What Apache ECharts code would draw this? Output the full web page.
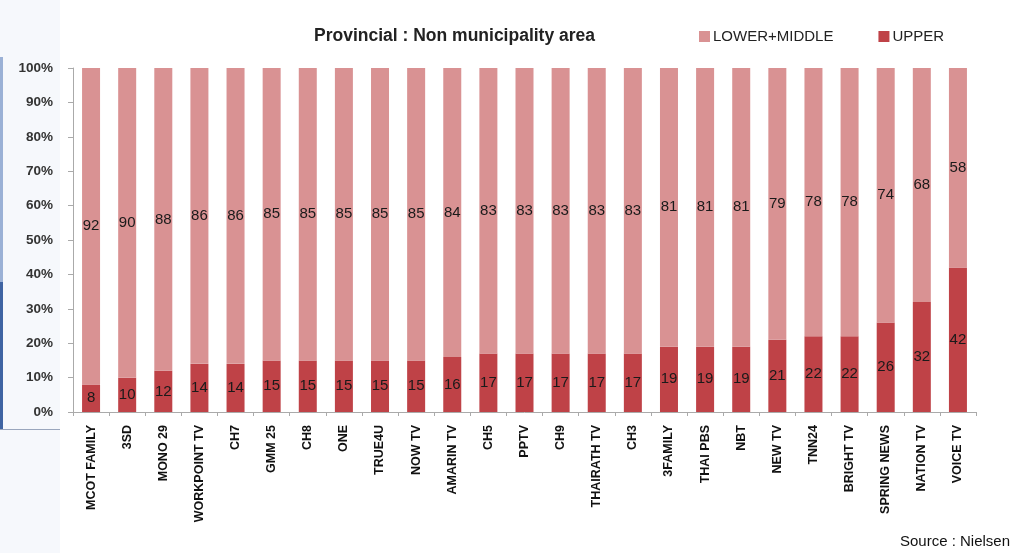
<!DOCTYPE html>
<html>
<head>
<meta charset="utf-8">
<script src="https://cdn.jsdelivr.net/npm/echarts@6/dist/echarts.min.js"></script>
<style>
html,body{margin:0;padding:0;background:#ffffff;}
#chart{width:1015px;height:553px;}
</style>
</head>
<body>
<div id="chart"></div>
<script>
const categories = ["MCOT FAMILY","3SD","MONO 29","WORKPOINT TV","CH7","GMM 25","CH8","ONE","TRUE4U","NOW TV","AMARIN TV","CH5","PPTV","CH9","THAIRATH TV","CH3","3FAMILY","THAI PBS","NBT","NEW TV","TNN24","BRIGHT TV","SPRING NEWS","NATION TV","VOICE TV"];
const upper = [8,10,12,14,14,15,15,15,15,15,16,17,17,17,17,17,19,19,19,21,22,22,26,32,42];
const lowerMiddle = [92,90,88,86,86,85,85,85,85,85,84,83,83,83,83,83,81,81,81,79,78,78,74,68,58];
const yTicks = [0,10,20,30,40,50,60,70,80,90,100];

const FONT = '"Liberation Sans", Arial, sans-serif';
const chart = echarts.init(document.getElementById('chart'));
chart.setOption({
  backgroundColor: '#ffffff',
  animation: false,
  textStyle: { fontFamily: FONT },
  title: {
    text: 'Provincial : Non municipality area',
    left: 309, top: 22,
    textStyle: { fontFamily: FONT, fontSize: 17.5, fontWeight: 'bold', color: '#222' }
  },
  legend: {
    left: 694, top: 24,
    itemWidth: 11, itemHeight: 11, itemGap: 45,
    icon: 'rect',
    textStyle: { fontFamily: FONT, fontSize: 15, color: '#222', padding: [0,0,0,-2] },
    data: ['LOWER+MIDDLE','UPPER']
  },
  grid: { left: 73, right: 39, top: 68, bottom: 141, containLabel: false },
  xAxis: {
    type: 'category',
    data: categories,
    axisLine: { lineStyle: { color: '#aaaaaa' } },
    axisTick: { show: true, length: 4, lineStyle: { color: '#aaaaaa' } },
    axisLabel: { rotate: 90, interval: 0, margin: 13, fontFamily: FONT, fontSize: 12.5, fontWeight: 'bold', color: '#111' }
  },
  yAxis: {
    type: 'value',
    min: yTicks[0], max: yTicks[yTicks.length-1], interval: 10,
    axisLine: { show: true, lineStyle: { color: '#aaaaaa' } },
    axisTick: { show: true, length: 5, lineStyle: { color: '#aaaaaa' } },
    splitLine: { show: false },
    axisLabel: { formatter: '{value}%', margin: 20, fontFamily: FONT, fontSize: 13.5, fontWeight: 'bold', color: '#333' }
  },
  series: [
    {
      name: 'UPPER', type: 'bar', stack: 'total', data: upper, barWidth: 18,
      itemStyle: { color: '#bf4247' },
      label: { show: true, position: 'inside', fontFamily: FONT, fontSize: 15, color: '#1a1a1a' }
    },
    {
      name: 'LOWER+MIDDLE', type: 'bar', stack: 'total', data: lowerMiddle, barWidth: 18,
      itemStyle: { color: '#d99293' },
      label: { show: true, position: 'inside', fontFamily: FONT, fontSize: 15, color: '#1a1a1a' }
    }
  ],
  graphic: [
    { type: 'rect', left: 0, top: 0, shape: { width: 60, height: 553 }, style: { fill: '#f6f8fc' }, z: -10 },
    { type: 'rect', left: 0, top: 57, shape: { width: 3, height: 225 }, style: { fill: '#9bb1d6' } },
    { type: 'rect', left: 0, top: 282, shape: { width: 3, height: 148 }, style: { fill: '#3f64a3' } },
    { type: 'rect', left: 0, top: 429, shape: { width: 60, height: 1 }, style: { fill: '#9aa6bd' } },
    { type: 'text', right: 5, top: 534, style: { text: 'Source : Nielsen', font: '15px ' + FONT, fill: '#111' } }
  ]
});
</script>
</body>
</html>
